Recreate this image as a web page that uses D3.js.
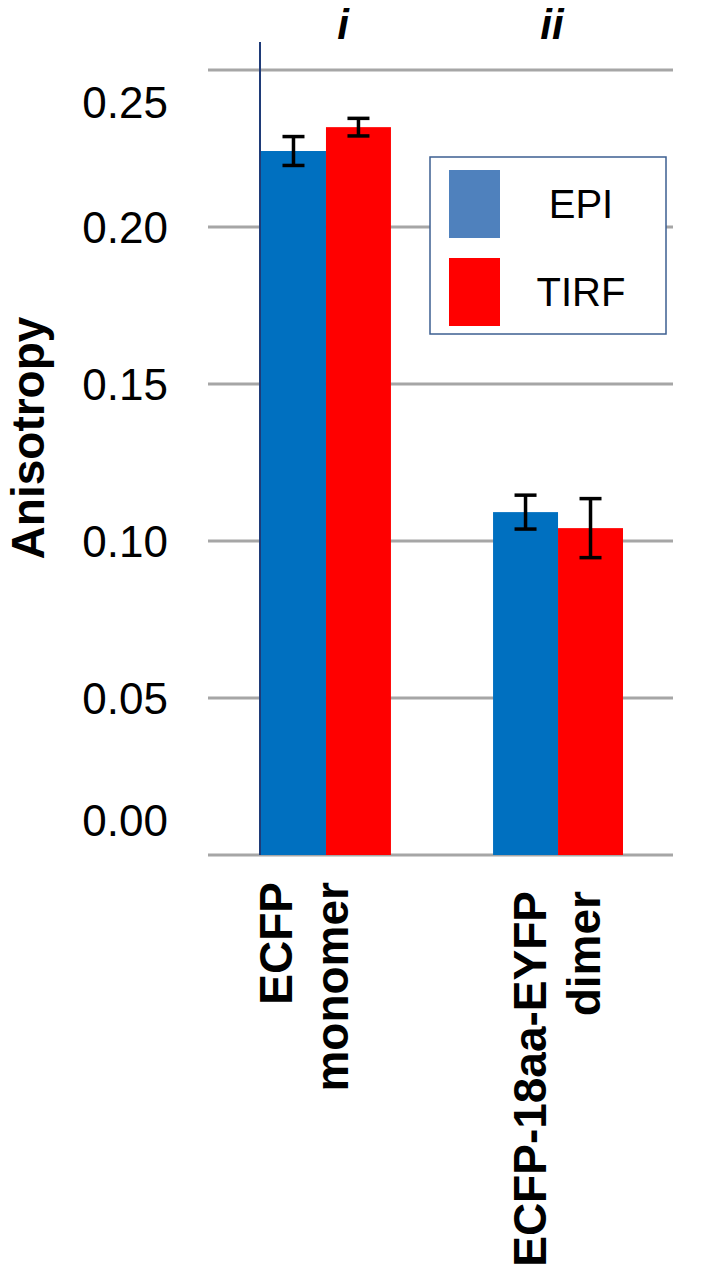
<!DOCTYPE html>
<html>
<head>
<meta charset="utf-8">
<script src="https://cdn.jsdelivr.net/npm/d3@7"></script>
<style>
  html, body { margin: 0; padding: 0; background: #fff; }
  svg { display: block; font-family: "Liberation Sans", Arial, sans-serif; }
</style>
</head>
<body>
<script>
// ---- data ----
const categories = ["ECFP monomer", "ECFP-18aa-EYFP dimer"];
const categoryLines = [["ECFP", "monomer"], ["ECFP-18aa-EYFP", "dimer"]];
const groupTags = ["i", "ii"];
const seriesNames = ["EPI", "TIRF"];
const epiValues = [0.2242, 0.1092];
const epiErrors = [0.0046, 0.0054];
const tirfValues = [0.2318, 0.1041];
const tirfErrors = [0.0028, 0.0094];
const yTicks = [0.00, 0.05, 0.10, 0.15, 0.20, 0.25];

// ---- layout ----
const W = 702, H = 1269;
const barColors = { EPI: "#0070c0", TIRF: "#ff0000" };
const legendColors = { EPI: "#4f81bd", TIRF: "#ff0000" };

const svg = d3.select("body").append("svg").attr("width", W).attr("height", H);

const y = d3.scaleLinear().domain([0, 0.25]).range([855, 70]);
const x0 = d3.scaleBand().domain(categories).range([261, 623]).paddingInner(0.44).paddingOuter(0);
const x1 = d3.scaleBand().domain(seriesNames).range([0, x0.bandwidth()]).padding(0);

// gridlines
svg.append("g").selectAll("line").data(yTicks).join("line")
  .attr("x1", 208).attr("x2", 673)
  .attr("y1", d => y(d)).attr("y2", d => y(d))
  .attr("stroke", "#a6a6a6").attr("stroke-width", 3);

// tick labels (end labels pulled inward as in the original)
const yTop = y(0.25), yBot = y(0);
svg.append("g").selectAll("text").data(yTicks).join("text")
  .attr("x", 168)
  .attr("y", d => Math.min(Math.max(y(d), yTop + 32), yBot - 35))
  .attr("dy", "0.36em")
  .attr("text-anchor", "end")
  .attr("font-size", 44)
  .attr("fill", "#000")
  .text(d => d3.format(".2f")(d));

// y title
svg.append("text")
  .attr("transform", "translate(44,438) rotate(-90)")
  .attr("text-anchor", "middle")
  .attr("font-size", 46).attr("font-weight", "bold")
  .text("Anisotropy");

// bars
const rows = categories.map((c, i) => ({
  cat: c,
  items: [
    { s: "EPI", v: epiValues[i], e: epiErrors[i] },
    { s: "TIRF", v: tirfValues[i], e: tirfErrors[i] }
  ]
}));

const groups = svg.append("g").selectAll("g").data(rows).join("g")
  .attr("transform", d => `translate(${x0(d.cat)},0)`);

groups.selectAll("rect").data(d => d.items).join("rect")
  .attr("x", d => x1(d.s))
  .attr("width", x1.bandwidth())
  .attr("y", d => y(d.v))
  .attr("height", d => y(0) - y(d.v))
  .attr("fill", d => barColors[d.s]);

// error bars
const eb = groups.selectAll("g.err").data(d => d.items).join("g").attr("class", "err")
  .attr("transform", d => `translate(${x1(d.s) + x1.bandwidth() / 2},0)`)
  .attr("stroke", "#000").attr("stroke-width", 3.5);
eb.append("line").attr("x1", 0).attr("x2", 0)
  .attr("y1", d => y(d.v + d.e)).attr("y2", d => y(d.v - d.e));
eb.append("line").attr("x1", -11).attr("x2", 11)
  .attr("y1", d => y(d.v + d.e)).attr("y2", d => y(d.v + d.e));
eb.append("line").attr("x1", -11).attr("x2", 11)
  .attr("y1", d => y(d.v - d.e)).attr("y2", d => y(d.v - d.e));

// vertical axis line
svg.append("line")
  .attr("x1", 260).attr("x2", 260).attr("y1", 42).attr("y2", 855)
  .attr("stroke", "#1f3b78").attr("stroke-width", 2);

// group tags i / ii
const tagOffsets = [17, -6];
svg.append("g").selectAll("text").data(groupTags).join("text")
  .attr("x", (d, i) => x0(categories[i]) + x0.bandwidth() / 2 + tagOffsets[i])
  .attr("y", 39)
  .attr("text-anchor", "middle")
  .attr("font-size", 42).attr("font-weight", "bold").attr("font-style", "italic")
  .text(d => d);

// category labels (rotated)
const lineOffsets = [[-34, 22], [-12, 42]];
categories.forEach((c, i) => {
  const cx = x0(c) + x0.bandwidth() / 2;
  categoryLines[i].forEach((t, j) => {
    svg.append("text")
      .attr("transform", `translate(${cx + lineOffsets[i][j]},${i === 0 ? 882 : 891}) rotate(-90)`)
      .attr("text-anchor", "end")
      .attr("font-size", 46).attr("font-weight", "bold")
      .text(t);
  });
});

// legend
const lg = svg.append("g").attr("transform", "translate(430,157)");
lg.append("rect").attr("x", 0).attr("y", 0).attr("width", 236).attr("height", 177)
  .attr("fill", "#fff").attr("stroke", "#3d5f91").attr("stroke-width", 1.5);
const li = lg.selectAll("g.item").data(seriesNames).join("g").attr("class", "item")
  .attr("transform", (d, i) => `translate(0,${13 + i * 88})`);
li.append("rect").attr("x", 19).attr("y", 0).attr("width", 51).attr("height", 68)
  .attr("fill", d => legendColors[d]);
li.append("text").attr("x", 151).attr("y", 34).attr("dy", "0.36em")
  .attr("text-anchor", "middle").attr("font-size", 40)
  .text(d => d);
</script>
</body>
</html>
